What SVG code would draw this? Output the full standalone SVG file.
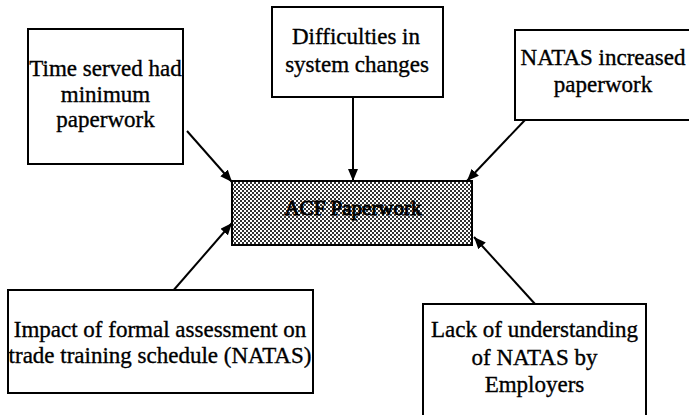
<svg xmlns="http://www.w3.org/2000/svg" width="689" height="415" viewBox="0 0 689 415">
<style>
.box{fill:#fff;stroke:#000;stroke-width:2}
.t{font-family:'Liberation Serif','Times New Roman',Times,serif;font-size:23px;fill:#000;stroke:#000;stroke-width:0.35;text-anchor:middle}
.ct{font-size:21px;stroke-width:0.9}
.c{stroke:#000;stroke-width:2;fill:none;marker-end:url(#ah)}
</style>
<defs>
<marker id="ah" viewBox="0 0 12 10" refX="12" refY="5" markerWidth="12" markerHeight="10" markerUnits="userSpaceOnUse" orient="auto">
<path d="M0,0 L12,5 L0,10 Z" fill="#000"/>
</marker>
<pattern id="chk" width="4" height="4" patternUnits="userSpaceOnUse">
<rect width="4" height="4" fill="#fff"/>
<rect width="2" height="2" fill="#333"/>
<rect x="2" y="2" width="2" height="2" fill="#333"/>
</pattern>
</defs>
<g id="connectors">
<line class="c" x1="187" y1="131" x2="232" y2="182"/>
<line class="c" x1="353" y1="97" x2="353" y2="181"/>
<line class="c" x1="525" y1="120" x2="467" y2="181"/>
<line class="c" x1="172" y1="292" x2="232" y2="223"/>
<line class="c" x1="535" y1="304" x2="474" y2="237"/>
</g>
<g id="n1">
<rect class="box" x="28" y="29" width="155" height="135"/>
<text class="t" x="105.5" y="76">Time served had</text>
<text class="t" x="105.5" y="102">minimum</text>
<text class="t" x="105.5" y="127">paperwork</text>
</g>
<g id="n2">
<rect class="box" x="272" y="7" width="171" height="90"/>
<text class="t" x="356" y="44">Difficulties in</text>
<text class="t" x="357" y="72">system changes</text>
</g>
<g id="n3">
<rect class="box" x="515" y="30" width="180" height="90"/>
<text class="t" x="603" y="65">NATAS increased</text>
<text class="t" x="603" y="92">paperwork</text>
</g>
<g id="center">
<rect x="232" y="181" width="240" height="64" fill="url(#chk)" stroke="#000" stroke-width="2"/>
<text class="t ct" x="353" y="215">ACF Paperwork</text>
</g>
<g id="n4">
<rect class="box" x="8" y="290" width="305" height="103"/>
<text class="t" x="160" y="337">Impact of formal assessment on</text>
<text class="t" x="160" y="363">trade training schedule (NATAS)</text>
</g>
<g id="n5">
<rect class="box" x="423" y="304" width="223" height="120"/>
<text class="t" x="534.5" y="337">Lack of understanding</text>
<text class="t" x="534.5" y="365">of NATAS by</text>
<text class="t" x="534.5" y="392">Employers</text>
</g>
</svg>
